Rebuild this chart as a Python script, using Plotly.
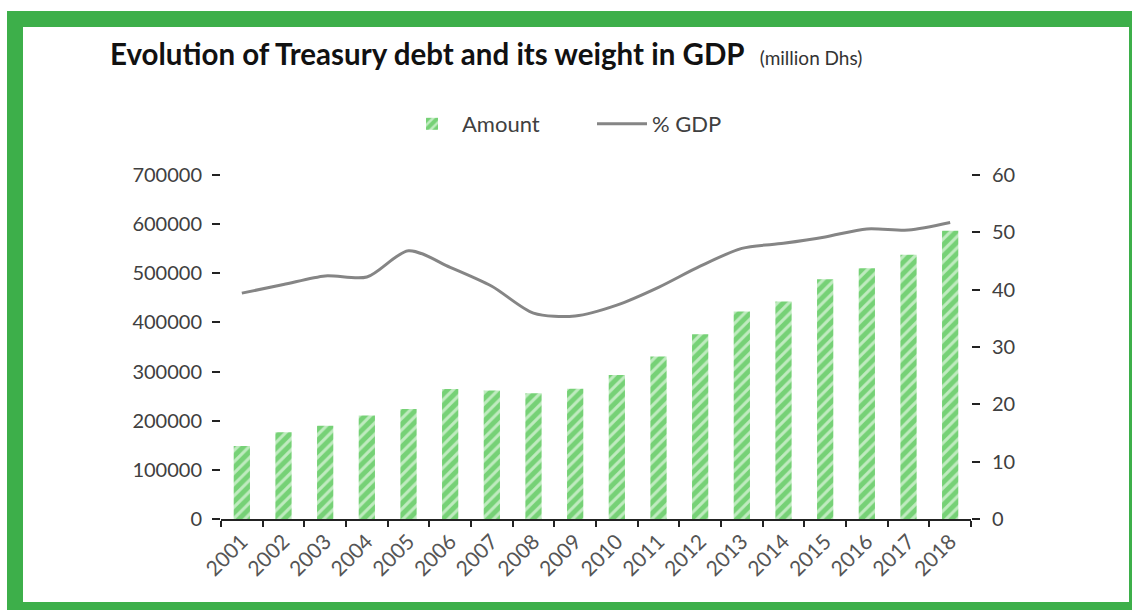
import plotly.graph_objects as go

# Treasury debt (million Dhs) and its weight in GDP (%)
years = [str(y) for y in range(2001, 2019)]
amount = [148500, 176500, 190000, 210500, 224000, 264500, 261500, 256000, 265000,
          293000, 330500, 376000, 422000, 442500, 488000, 510500, 537500, 586500]
pct_gdp = [39.4, 40.9, 42.4, 42.2, 46.8, 43.9, 40.6, 35.9, 35.4,
           37.3, 40.4, 44.1, 47.2, 48.1, 49.2, 50.6, 50.4, 51.7]

left_ticks = [0, 100000, 200000, 300000, 400000, 500000, 600000, 700000]
right_ticks = [0, 10, 20, 30, 40, 50, 60]

FONT = "Lato"
W, H = 1132, 610
L, R, T, B = 221, 161, 175, 91
PW, PH = W - L - R, H - T - B


def px(x):
    return (x - L) / PW


def py(y):
    return (H - B - y) / PH


fig = go.Figure()

fig.add_trace(go.Bar(
    x=years, y=amount, name="Amount", width=0.39,
    marker=dict(
        color="#2cb82c",
        line=dict(width=0),
        pattern=dict(shape="/", size=8, solidity=0.62,
                     fgcolor="#2cb82c", bgcolor="#c0ebc0"),
    ),
    yaxis="y",
))

fig.add_trace(go.Scatter(
    x=years, y=pct_gdp, name="% GDP", mode="lines",
    line=dict(color="#858585", width=3, shape="spline", smoothing=0.8),
    yaxis="y2",
))

shapes = [
    # green frame
    dict(type="rect", xref="paper", yref="paper", layer="below",
         x0=px(7), x1=px(1140), y0=py(11), y1=py(620),
         fillcolor="#3daf4a", line=dict(width=0)),
    dict(type="rect", xref="paper", yref="paper", layer="below",
         x0=px(23), x1=px(1129), y0=py(27), y1=py(602),
         fillcolor="white", line=dict(width=0)),
]

annotations = [
    dict(xref="paper", yref="paper", x=px(108), y=py(53),
         xanchor="left", yanchor="middle", showarrow=False,
         text="<b>Evolution of Treasury debt and its weight in GDP</b>"
              "  <span style='font-size:19px;color:#333'>(million Dhs)</span>",
         font=dict(family=FONT, size=29.5, color="#111")),
]

fig.update_layout(
    width=W, height=H,
    margin=dict(l=L, r=R, t=T, b=B, pad=0),
    paper_bgcolor="white",
    plot_bgcolor="rgba(0,0,0,0)",
    font=dict(family=FONT, size=20, color="#404040"),
    bargap=0.61,
    showlegend=True,
    legend=dict(orientation="h", x=px(402), y=py(124), xanchor="left",
                yanchor="middle", font=dict(size=22, color="#404040"),
                bgcolor="rgba(0,0,0,0)", itemwidth=50,
                entrywidth=125, entrywidthmode="pixels"),
    xaxis=dict(
        type="category", showline=True, linecolor="#222", linewidth=2,
        ticks="outside", tickson="boundaries", ticklen=6, tickcolor="#222",
        tickwidth=2, tickangle=-45, showgrid=False, zeroline=False,
        tickfont=dict(size=21, color="#555"),
    ),
    yaxis=dict(
        range=[0, 700000], tickvals=left_ticks,
        ticktext=[str(v) for v in left_ticks],
        showgrid=False, zeroline=False, showline=False,
        ticks="outside", ticklen=8, tickcolor="#222", tickwidth=2,
        ticklabelstandoff=6, tickfont=dict(size=20, color="#404040"),
    ),
    yaxis2=dict(
        range=[0, 60], tickvals=right_ticks, overlaying="y", side="right",
        showgrid=False, zeroline=False, showline=False,
        ticks="outside", ticklen=8, tickcolor="#222", tickwidth=2,
        ticklabelstandoff=8, tickfont=dict(size=20, color="#404040"),
    ),
    shapes=shapes,
    annotations=annotations,
)

fig.write_html("out.html")
